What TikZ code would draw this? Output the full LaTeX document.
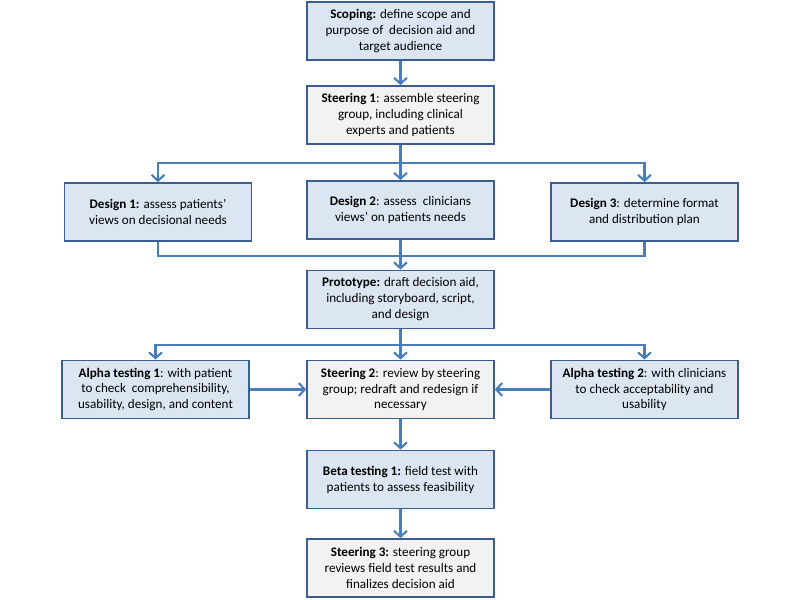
\documentclass[tikz,border=0pt]{standalone}
\usepackage{fontspec}
\setmainfont{Carlito}
\usepackage{tikz}
\usepackage{xcolor}
\usetikzlibrary{arrows.meta}

\definecolor{boxblue}{HTML}{DCE6F2}
\definecolor{boxgrey}{HTML}{F2F2F2}
\definecolor{edgeblue}{HTML}{3A5F8E}
\definecolor{arrowblue}{HTML}{4A7EBB}

\begin{document}
\begin{tikzpicture}[x=0.03cm,y=-0.03cm,
    stage/.style={draw=edgeblue,line width=1.5pt,minimum width=5.61cm,minimum height=1.74cm,
        align=center,inner sep=2pt,font=\fontsize{11.2}{13.6}\selectfont},
    bluestage/.style={stage,fill=boxblue},
    greystage/.style={stage,fill=boxgrey},
    link/.style={draw=arrowblue,line width=1.8pt},
    flow/.style={link,-{Straight Barb[length=5pt,width=11pt,line width=1.8pt]}}]
        \useasboundingbox (0,0) rectangle (800,600);
        \node[bluestage] (scoping) at (400.5,31) {\textbf{Scoping:} define scope and\\purpose of\ \ decision aid and\\target audience};
        \node[greystage] (steer1) at (400.5,115) {\textbf{Steering 1}: assemble steering\\group, including clinical\\experts and patients};
        \node[bluestage] (design1) at (158,212) {\textbf{Design 1:} assess patients’\\views on decisional needs};
        \node[bluestage] (design2) at (400.5,210) {\textbf{Design 2}: assess\ \ clinicians\\views’ on patients needs};
        \node[bluestage] (design3) at (644.5,212) {\textbf{Design 3}: determine format\\and distribution plan};
        \node[bluestage] (proto) at (400.5,299.5) {\textbf{Prototype:} draft decision aid,\\including storyboard, script,\\and design};
        \node[bluestage] (alpha1) at (155.5,389.5) {\textbf{Alpha testing 1}: with patient\\to check\ \ comprehensibility,\\usability, design, and content};
        \node[greystage] (steer2) at (400.5,389.5) {\textbf{Steering 2}: review by steering\\group; redraft and redesign if\\necessary};
        \node[bluestage] (alpha2) at (644.5,389.5) {\textbf{Alpha testing 2}: with clinicians\\to check acceptability and\\usability};
        \node[bluestage] (beta) at (400.5,479.5) {\textbf{Beta testing 1:} field test with\\patients to assess feasibility};
        \node[greystage] (steer3) at (400.5,568) {\textbf{Steering 3:} steering group\\reviews field test results and\\finalizes decision aid};
        \coordinate (split1) at (400.5,163);
        \coordinate (merge1) at (400.5,256);
        \coordinate (split2) at (400.5,345);
        \draw[flow] (scoping) -- (steer1);
        \draw[flow] (steer1) -- (design2);
        \draw[flow] (split1) -| (design1.north);
        \draw[flow] (split1) -| (design3.north);
        \draw[link] (design1.south) |- (merge1);
        \draw[link] (design3.south) |- (merge1);
        \draw[flow] (design2) -- (proto);
        \draw[flow] (proto) -- (steer2);
        \draw[flow] (split2) -| (alpha1.north);
        \draw[flow] (split2) -| (alpha2.north);
        \draw[flow] (alpha1) -- (steer2);
        \draw[flow] (alpha2) -- (steer2);
        \draw[flow] (steer2) -- (beta);
        \draw[flow] (beta) -- (steer3);
    \end{tikzpicture}
\end{document}
